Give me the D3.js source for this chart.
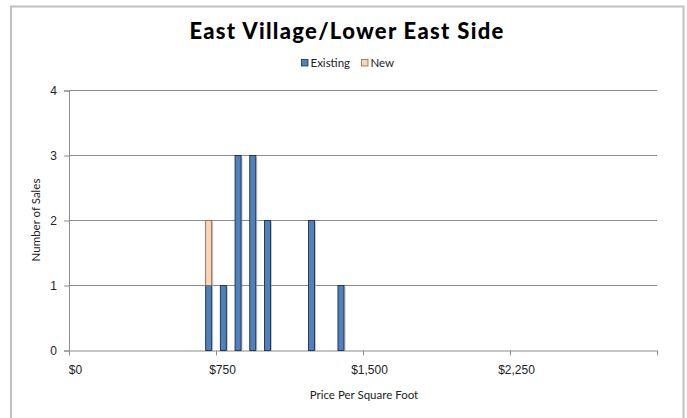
<!DOCTYPE html>
<html>
<head>
<meta charset="utf-8">
<script src="https://cdn.jsdelivr.net/npm/d3@7"></script>
<style>
  body { margin: 0; background: #fff; }
  svg { display: block; font-family: "Century Gothic", "Lato", "Noto Sans", sans-serif; }
</style>
</head>
<body>
<svg width="687" height="418"></svg>
<script>
// price bins ($75 wide), shown by their midpoint
const binMid = [712.5, 787.5, 862.5, 937.5, 1012.5, 1237.5, 1387.5];
const existing = [1, 1, 3, 3, 2, 2, 1];
const newSales = [1, 0, 0, 0, 0, 0, 0];
const xTicks = [0, 750, 1500, 2250, 3000];
const yTicks = [0, 1, 2, 3, 4];
const seriesNames = ["Existing", "New"];

const svg = d3.select("svg");
const margin = { left: 69, right: 30, top: 90.5, bottom: 67.5 };
const width = 687, height = 418;

const x = d3.scaleLinear().domain([0, 3000]).range([margin.left, width - margin.right]);
const y = d3.scaleLinear().domain([0, 4]).range([height - margin.bottom, margin.top]);

// outer chart frame
svg.append("rect")
  .attr("x", 11).attr("y", 6.5)
  .attr("width", 672.5).attr("height", 420)
  .attr("fill", "none").attr("stroke", "#c0c0c0").attr("stroke-width", 2);

// title
svg.append("text")
  .attr("x", 347).attr("y", 39)
  .attr("text-anchor", "middle")
  .style("font-family", "Lato, sans-serif")
  .style("font-weight", 900)
  .style("font-size", "22px")
  .style("letter-spacing", "1.3px")
  .text("East Village/Lower East Side");

// legend
const legend = svg.append("g").attr("transform", "translate(301.5,59.5)");
const legendColors = ["#4f81bd", "#fbd5b5"];
const legendStroke = ["#1c2f4a", "#8a6a50"];
const legendX = [0, 60];
seriesNames.forEach((name, i) => {
  legend.append("rect")
    .attr("x", legendX[i]).attr("y", 0)
    .attr("width", 6.5).attr("height", 6.5)
    .attr("fill", legendColors[i]).attr("stroke", legendStroke[i]).attr("stroke-width", 0.8);
  legend.append("text")
    .attr("x", legendX[i] + 9).attr("y", 7.5)
    .style("font-size", "11.5px").attr("fill", "#222")
    .text(name);
});

// gridlines
svg.append("g")
  .selectAll("line")
  .data(yTicks.filter(d => d > 0))
  .join("line")
  .attr("x1", x(0)).attr("x2", x(3000))
  .attr("y1", d => y(d)).attr("y2", d => y(d))
  .attr("stroke", "#8c8c8c").attr("stroke-width", 1);

// y axis
const yAxis = svg.append("g")
  .attr("transform", `translate(${x(0)},0)`)
  .call(d3.axisLeft(y).tickValues(yTicks).tickSize(5).tickPadding(7).tickFormat(d3.format("d")));
yAxis.select(".domain").attr("stroke", "#8c8c8c");
yAxis.selectAll(".tick line").attr("stroke", "#8c8c8c");
yAxis.selectAll("text").style("font-size", "12px").attr("fill", "#222").attr("font-family", null);

// x axis
const xAxis = svg.append("g")
  .attr("transform", `translate(0,${y(0)})`)
  .call(d3.axisBottom(x).tickValues(xTicks).tickSize(5).tickSizeOuter(0).tickPadding(10)
    .tickFormat(d => d === 3000 ? "" : "$" + d3.format(",")(d)));
xAxis.select(".domain").attr("stroke", "#8c8c8c");
xAxis.selectAll(".tick line").attr("stroke", "#8c8c8c");
xAxis.selectAll("text").style("font-size", "12px").attr("fill", "#222").attr("font-family", null)
  .attr("dx", 6);

// axis titles
svg.append("text")
  .attr("transform", "translate(40,220) rotate(-90)")
  .attr("text-anchor", "middle")
  .style("font-size", "11.5px").attr("fill", "#222")
  .text("Number of Sales");

svg.append("text")
  .attr("x", 364).attr("y", 399)
  .attr("text-anchor", "middle")
  .style("font-size", "11.5px").attr("fill", "#222")
  .text("Price Per Square Foot");

// stacked bars
const rows = binMid.map((m, i) => ({ mid: m, Existing: existing[i], New: newSales[i] }));
const stacked = d3.stack().keys(seriesNames)(rows);
const barW = 6;

const bars = svg.append("g");
stacked.forEach((layer, li) => {
  const g = bars.append("g");
  const segs = layer.filter(d => d[1] > d[0]);
  // soft shadow on the right edge
  g.selectAll("rect.shadow")
    .data(segs)
    .join("rect")
    .attr("class", "shadow")
    .attr("x", d => x(d.data.mid) - barW / 2 + 1.5)
    .attr("y", d => y(d[1]) + 1)
    .attr("width", barW)
    .attr("height", d => y(d[0]) - y(d[1]) - 1)
    .attr("fill", "#a0a0a0").attr("opacity", 0.6);
  g.selectAll("rect.bar")
    .data(segs)
    .join("rect")
    .attr("class", "bar")
    .attr("x", d => x(d.data.mid) - barW / 2)
    .attr("y", d => y(d[1]))
    .attr("width", barW)
    .attr("height", d => y(d[0]) - y(d[1]))
    .attr("fill", legendColors[li])
    .attr("stroke", legendStroke[li]).attr("stroke-width", 0.9);
});
</script>
</body>
</html>
